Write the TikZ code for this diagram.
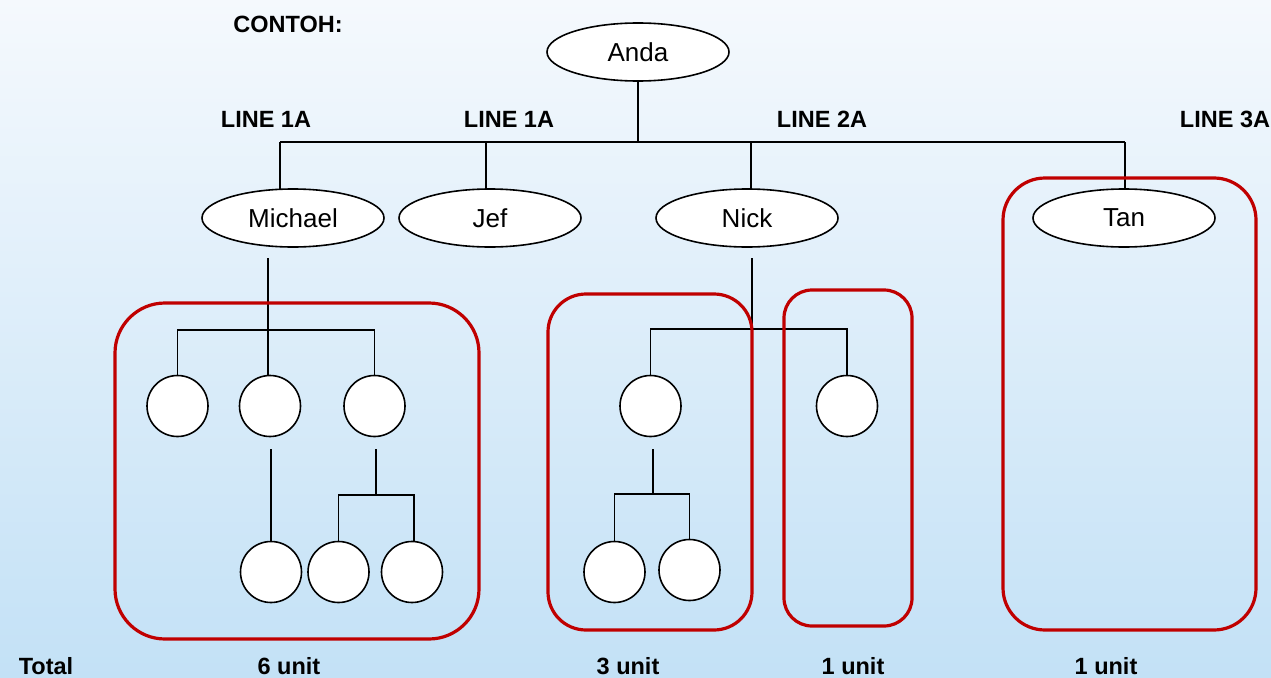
\documentclass[tikz,border=0pt]{standalone}
\usepackage{fontspec}
\setmainfont{Liberation Sans}
\usetikzlibrary{shapes.geometric}
\pgfdeclarelayer{bg}
\pgfdeclarelayer{wires}
\pgfsetlayers{bg,wires,main}
\definecolor{boxred}{HTML}{C00000}
\definecolor{bgtop}{HTML}{F5F9FD}
\definecolor{bgbot}{HTML}{C3E1F6}
\begin{document}
\begin{tikzpicture}[x=1pt,y=-1pt,
  person/.style={ellipse,draw,line width=1.6pt,fill=white,minimum width=182pt,minimum height=58pt,inner sep=0pt,font=\fontsize{26}{30}\selectfont},
  member/.style={circle,draw,line width=1.6pt,fill=white,minimum size=61pt,inner sep=0pt},
  wire/.style={line width=1.6pt},
  groupbox/.style={draw=boxred,line width=3.2pt,rounded corners=#1},
  lbl/.style={font=\bfseries\fontsize{23.5}{27}\selectfont,inner sep=0pt}
]
\useasboundingbox (0,0) rectangle (1271,677);
\begin{pgfonlayer}{bg}
  \shade[top color=bgtop,bottom color=bgbot] (0,0) rectangle (1271,677);
\end{pgfonlayer}

% labels
\node[lbl] (contoh) at (288,24) {CONTOH:};
\node[lbl] (l1) at (266,119) {LINE 1A};
\node[lbl] (l2) at (509,119) {LINE 1A};
\node[lbl] (l3) at (822,119) {LINE 2A};
\node[lbl] (l4) at (1225,119) {LINE 3A};
\node[lbl] (total) at (46,666) {Total};
\node[lbl] (t1) at (289,666) {6 unit};
\node[lbl] (t2) at (628,666) {3 unit};
\node[lbl] (t3) at (853,666) {1 unit};
\node[lbl] (t4) at (1106,666) {1 unit};

% people
\node[person] (anda) at (638,52) {Anda};
\node[person] (michael) at (293,218) {Michael};
\node[person] (jef) at (490,218) {Jef};
\node[person] (nick) at (747,218) {Nick};
\node[person] (tan) at (1124,218) {Tan};

% members under Michael
\node[member] (m1) at (177.5,406) {};
\node[member] (m2) at (270,406) {};
\node[member] (m3) at (374.5,406) {};
\node[member] (m4) at (271,572) {};
\node[member] (m5) at (338.5,572) {};
\node[member] (m6) at (412,572) {};

% members under Nick
\node[member] (n1) at (650.5,406) {};
\node[member] (n2) at (847,406) {};
\node[member] (n3) at (614.5,572) {};
\node[member] (n4) at (689.5,570) {};

% coordinates
\coordinate (bus) at (0,142);
\coordinate (busL) at (280,142);
\coordinate (busJ) at (486,142);
\coordinate (busN) at (751,142);
\coordinate (busR) at (1125,142);
\coordinate (mtop) at (268,258);
\coordinate (mbus) at (0,330);
\coordinate (m2b) at (271,449);
\coordinate (m3b) at (376,449);
\coordinate (m3bus) at (0,495);
\coordinate (ntop) at (752,258);
\coordinate (nbus) at (0,329);
\coordinate (n1b) at (653,449);
\coordinate (n1bus) at (0,494);

\begin{pgfonlayer}{wires}
  \draw[wire] (anda) -- (anda |- bus);
  \draw[wire] (busL) -- (busR);
  \draw[wire] (busL) -- (busL |- michael);
  \draw[wire] (busJ) -- (busJ |- jef);
  \draw[wire] (busN) -- (busN |- nick);
  \draw[wire] (busR) -- (busR |- tan);
  % Michael subtree
  \draw[wire] (mtop) -- (mtop |- m2);
  \draw[wire] (m1) -- (m1 |- mbus) -- (m3 |- mbus) -- (m3);
  \draw[wire] (m2b) -- (m2b |- m4);
  \draw[wire] (m3b) -- (m3b |- m3bus);
  \draw[wire] (m5) -- (m5 |- m3bus) -- ([xshift=2pt]m6 |- m3bus) -- ([xshift=2pt]m6.center);
  % Nick subtree
  \draw[wire] (ntop) -- (ntop |- nbus);
  \draw[wire] (n1) -- (n1 |- nbus) -- (n2 |- nbus) -- (n2);
  \draw[wire] (n1b) -- (n1b |- n1bus);
  \draw[wire] (n3) -- (n3 |- n1bus) -- (n4 |- n1bus) -- (n4);
\end{pgfonlayer}

% group boxes
\begin{pgfonlayer}{wires}
  \draw[groupbox=50pt] (115,303) rectangle (479,639);
  \draw[groupbox=38pt] (548,294) rectangle (752,630);
  \draw[groupbox=28pt] (784,290) rectangle (912,626);
  \draw[groupbox=42pt] (1003,178) rectangle (1256,630);
\end{pgfonlayer}
\end{tikzpicture}
\end{document}
